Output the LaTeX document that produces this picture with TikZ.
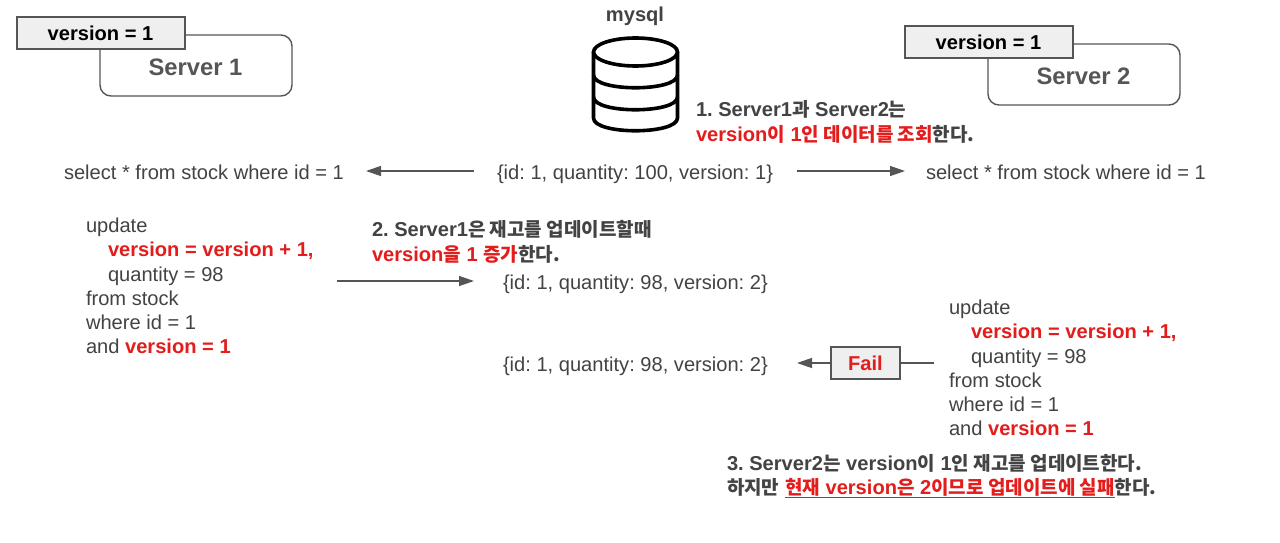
\documentclass[tikz,border=0pt]{standalone}
\usepackage{fontspec}
\setmainfont{Liberation Sans}
\newfontfamily\kofont{Noto Sans CJK KR}
\newcommand{\ko}[1]{{\kofont\fontsize{19}{24}\selectfont #1}}
\usetikzlibrary{arrows.meta}
\definecolor{ink}{HTML}{434343}
\definecolor{edge}{HTML}{555555}
\definecolor{hot}{HTML}{E31C1C}
\definecolor{badgefill}{HTML}{EFEFEF}
\newcommand{\hotb}[1]{\textcolor{hot}{#1}}
\frenchspacing
\tikzset{
  base/.style={inner sep=0pt,outer sep=0pt,text=ink,yshift=-1pt,font=\frenchspacing\fontsize{20.1}{24}\selectfont},
  txt/.style={base,anchor=base west},
  bold/.style={base,anchor=base west,font=\frenchspacing\fontsize{20.1}{24}\selectfont\bfseries},
  server/.style={draw=edge,line width=1.4pt,rounded corners=11pt,fill=white,minimum width=192pt,minimum height=61pt,inner sep=0pt},
  badge/.style={draw=edge,line width=1.4pt,fill=badgefill,inner sep=0pt,minimum height=32pt},
  link/.style={draw=edge,line width=1.3pt,-{Stealth[length=15pt,width=10pt,inset=0pt]}},
  plainlink/.style={draw=edge,line width=1.3pt},
  db/.style={draw=black,line width=3.6pt},
}
\begin{document}
\begin{tikzpicture}[x=1pt,y=-1pt]
\useasboundingbox[fill=white] (0,0) rectangle (1280,543);
% servers
\node[server] (s1) at (196,65.5) {};
\node[base,anchor=base,font=\fontsize{23.8}{26}\selectfont\bfseries,text=ink!90!white] (s1t) at (195.5,74.5) {Server 1};
\node[badge,minimum width=168pt] (b1) at (101,33) {};
\node[base,anchor=base,font=\fontsize{20.1}{24}\selectfont\bfseries,text=black] (b1t) at (100.5,40) {version = 1};
\node[server] (s2) at (1084,74.5) {};
\node[base,anchor=base,font=\fontsize{23.8}{26}\selectfont\bfseries,text=ink!90!white] (s2t) at (1083.5,83.5) {Server 2};
\node[badge,minimum width=168pt] (b2) at (989,42) {};
\node[base,anchor=base,font=\fontsize{20.1}{24}\selectfont\bfseries,text=black] (b2t) at (988.5,49) {version = 1};
% database
\node[base,anchor=base,font=\fontsize{20.1}{24}\selectfont\bfseries] (my) at (635,21) {mysql};
\draw[db] (635.5,52) ellipse [x radius=42,y radius=14];
\draw[db,line join=round] (593.5,52) -- (593.5,118) .. controls (593.5,135) and (677.5,135) .. (677.5,118) -- (677.5,52);
\draw[db] (593.5,75) .. controls (593.5,92) and (677.5,92) .. (677.5,75);
\draw[db] (593.5,97) .. controls (593.5,114) and (677.5,114) .. (677.5,97);
% step 1
\node[bold] (n1a) at (696,116) {1. Server1\ko{과} Server2\ko{는}};
\node[bold] (n1b) at (696,140) {\hotb{version\ko{이} 1\ko{인 데이터를 조회}}\ko{한다.}};
% top row
\node[txt] (sel1) at (64,178) {select * from stock where id = 1};
\node[txt] (row0) at (497,178) {\{id: 1, quantity: 100, version: 1\}};
\node[txt] (sel2) at (926,178) {select * from stock where id = 1};
\coordinate (a0) at (474,171); \coordinate (a1) at (366,171);
\coordinate (c0) at (797,171); \coordinate (c1) at (905,171);
\draw[link] (a0) -- (a1);
\draw[link] (c0) -- (c1);
% step 2
\node[bold] (n2a) at (372,235) {2. Server1\ko{은 재고를 업데이트할때}};
\node[bold] (n2b) at (372,260) {\hotb{version\ko{을} 1 \ko{증가}}\ko{한다.}};
% left update
\node[txt] (l1) at (86,231) {update};
\node[bold] (l2) at (108,255) {\hotb{version = version + 1,}};
\node[txt] (l3) at (108,280) {quantity = 98};
\node[txt] (l4) at (86,304) {from stock};
\node[txt] (l5) at (86,328) {where id = 1};
\node[txt] (l6) at (86,352) {and \textbf{\hotb{version = 1}}};
\coordinate (d0) at (337,281); \coordinate (d1) at (474,281);
\draw[link] (d0) -- (d1);
\node[txt] (row1) at (503,288) {\{id: 1, quantity: 98, version: 2\}};
% right update
\node[txt] (r1) at (949,313) {update};
\node[bold] (r2) at (971,337) {\hotb{version = version + 1,}};
\node[txt] (r3) at (971,362) {quantity = 98};
\node[txt] (r4) at (949,386) {from stock};
\node[txt] (r5) at (949,410) {where id = 1};
\node[txt] (r6) at (949,434) {and \textbf{\hotb{version = 1}}};
\node[txt] (row2) at (503,370) {\{id: 1, quantity: 98, version: 2\}};
\node[badge,minimum width=69pt] (fail) at (865.5,363) {};
\node[base,anchor=base,font=\fontsize{20.1}{24}\selectfont\bfseries,text=hot] (failt) at (865.5,369.5) {Fail};
\coordinate (e0) at (934,363); \coordinate (e1) at (797,363);
\draw[plainlink] (e0) -- (fail.east);
\draw[link] (fail.west) -- (e1);
% step 3
\node[bold] (n3a) at (727,469) {3. Server2\ko{는} version\ko{이} 1\ko{인 재고를 업데이트한다.}};
\node[bold] (n3b) at (727,493) {\ko{하지만} \hotb{\underline{\ko{현재} version\ko{은} 2\ko{이므로 업데이트에 실패}}}\ko{한다.}};
\end{tikzpicture}
\end{document}
